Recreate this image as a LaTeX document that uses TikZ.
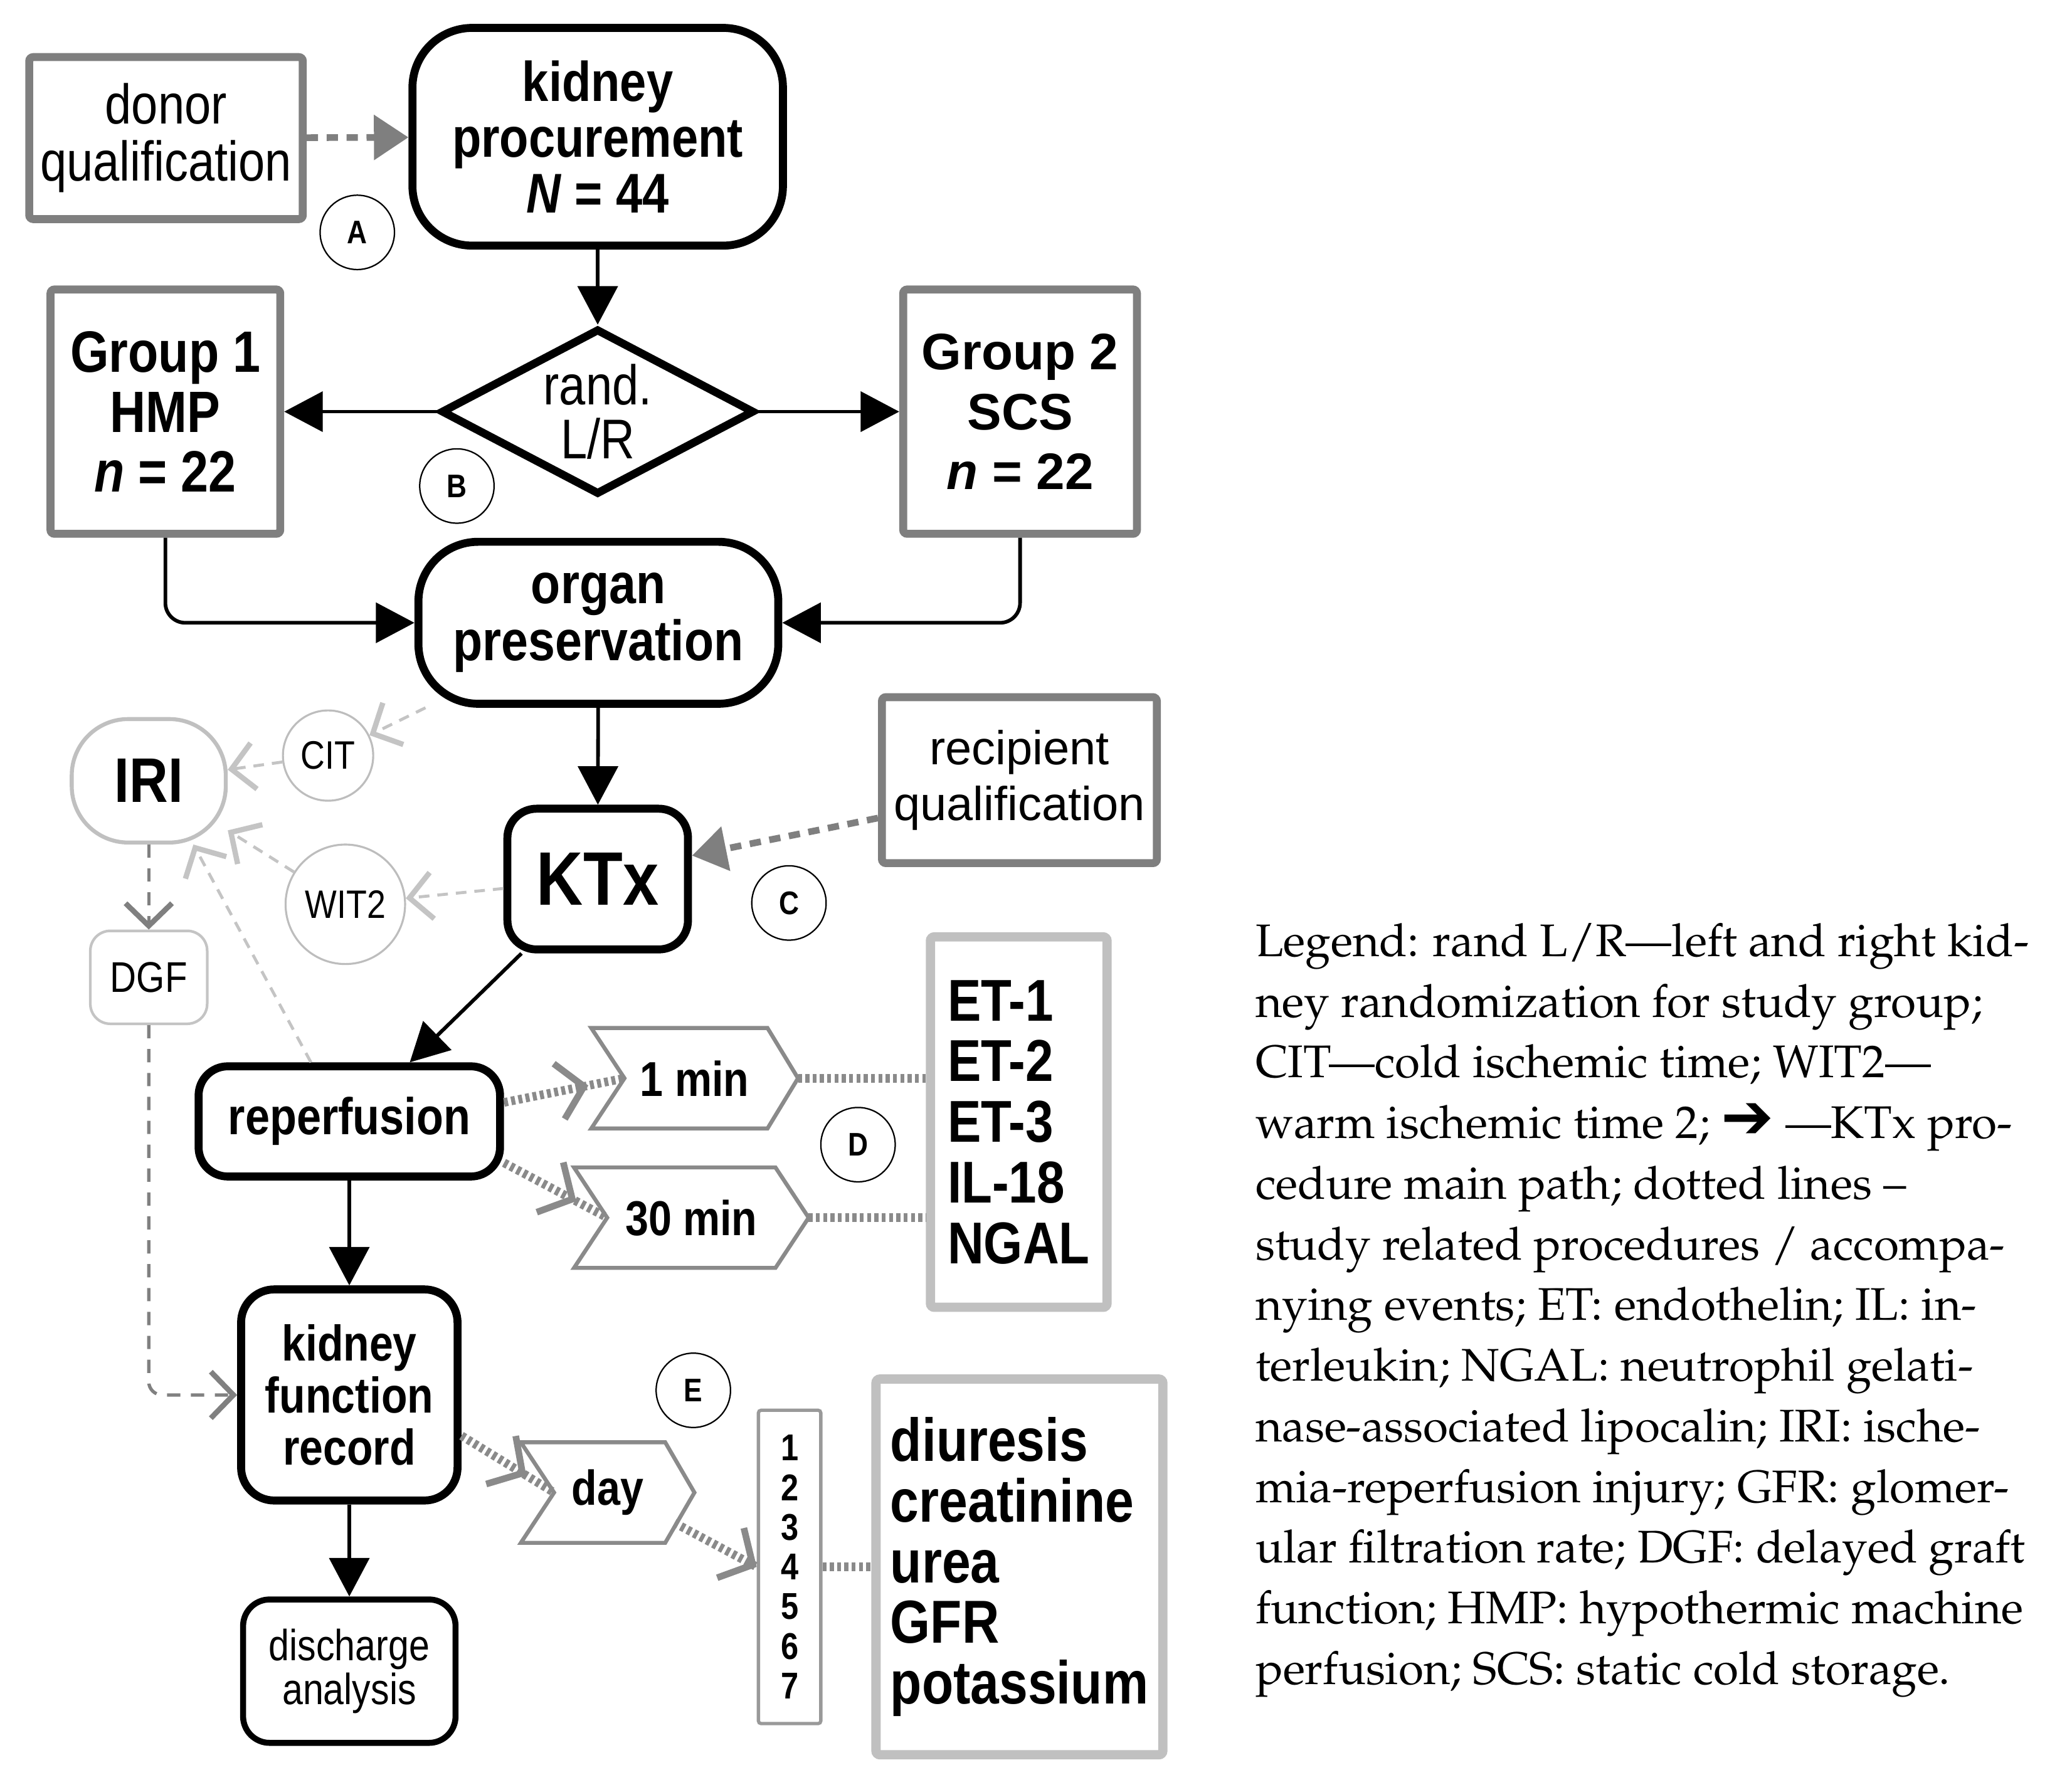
\documentclass[tikz,border=0pt]{standalone}
\usepackage[T1,TU]{fontenc}
\usepackage{fontspec}
\usetikzlibrary{arrows.meta,shapes.geometric,decorations.markings}

\newfontfamily\condfont{Liberation Sans}[FakeStretch=0.85]
\newfontfamily\plainfont{Liberation Sans}
\newfontfamily\symfont{DejaVu Sans}
\newcommand{\sz}[2]{\fontsize{#1}{#2}\selectfont}
\newcommand{\legendfont}{\fontencoding{T1}\fontfamily{ppl}\selectfont}

\definecolor{qualgray}{HTML}{7F7F7F}
\definecolor{listgray}{HTML}{C0C0C0}
\definecolor{eventgray}{HTML}{BDBDBD}
\definecolor{dashgray}{HTML}{C4C4C4}
\definecolor{chevgray}{HTML}{8A8A8A}
\definecolor{dgfgray}{HTML}{808080}
\definecolor{daysgray}{HTML}{999999}

% chevron outline round a node that is not drawn itself
\newcommand{\chevronframe}[2]{%
  \draw[chevline] (#1.north west) -- ([xshift=-#2]#1.north east) -- (#1.east)
    -- ([xshift=-#2]#1.south east) -- (#1.south west) -- ([xshift=0.5cm]#1.west) -- cycle;}

\begin{document}
\begin{tikzpicture}[
    x=0.02cm, y=-0.02cm,
    procbox/.style={
        rectangle, draw=black, line width=0.12cm,
        rounded corners=0.45cm, align=center, inner sep=0pt
    },
    qualbox/.style={
        rectangle, draw=qualgray, line width=0.12cm,
        rounded corners=0.06cm, align=center, inner sep=0pt
    },
    listbox/.style={
        rectangle, draw=listgray, line width=0.14cm,
        rounded corners=0.06cm, align=left, inner sep=0pt
    },
    eventnode/.style={
        circle, draw=eventgray, line width=0.03cm, inner sep=0pt,
        font=\condfont\sz{17}{18}
    },
    tag/.style={
        circle, draw=black, line width=0.6pt, minimum size=1.12cm, inner sep=0pt,
        font=\condfont\bfseries\sz{14}{15}
    },
    chevtext/.style={
        rectangle, inner sep=0pt, minimum height=1.5cm,
        font=\condfont\bfseries\sz{21}{22}
    },
    chevline/.style={draw=chevgray, line width=0.06cm},
    mainarrow/.style={
        line width=0.055cm, -{Triangle[length=0.58cm, width=0.6cm]}
    },
    qualarrow/.style={
        draw=qualgray, line width=0.1cm, dash pattern=on 0.17cm off 0.13cm,
        -{Triangle[length=0.52cm, width=0.66cm]}
    },
    eventarrow/.style={
        draw=dashgray, line width=0.045cm, dash pattern=on 0.16cm off 0.12cm,
        -{Straight Barb[length=0.34cm, width=0.7cm, line width=0.08cm]}
    },
    dgfarrow/.style={
        draw=dgfgray, line width=0.05cm, dash pattern=on 0.2cm off 0.16cm,
        -{Straight Barb[length=0.34cm, width=0.7cm, line width=0.08cm]}
    },
    sampleline/.style={
        draw=chevgray, line width=0.13cm, dash pattern=on 0.06cm off 0.05cm
    },
    samplearrow/.style={
        sampleline, postaction={decorate},
        decoration={markings, mark=at position #1 with
            {\arrow[chevgray]{Straight Barb[length=0.38cm, width=0.85cm, line width=0.1cm]}}}
    },
    samplearrow/.default=0.75
]
\useasboundingbox (0,0) rectangle (1560,1344);

% --- Top: donor and procurement ---
\node[qualbox, minimum width=4.12cm, minimum height=2.44cm,
      font=\condfont\sz{24}{24.5}] (donor) at (125,104) {donor\\qualification};
\node[procbox, minimum width=5.58cm, minimum height=3.28cm, rounded corners=0.9cm,
      font=\condfont\bfseries\sz{24}{24}] (kproc) at (450,103) {kidney\\procurement\\\textit{N} = 44};
\node[tag] (tagA) at (269,175) {A};

% --- Randomisation and groups ---
\node[diamond, draw=black, line width=0.12cm, aspect=1.9, inner sep=0pt,
      minimum width=4.72cm, minimum height=2.5cm, align=center,
      font=\condfont\sz{24}{23.3}] (rand) at (450,310) {rand.\\L/R};
\node[qualbox, minimum width=3.46cm, minimum height=3.68cm,
      font=\condfont\bfseries\sz{25}{25.6}] (grp1) at (124.5,310) {Group 1\\HMP\\\textit{n} = 22};
\node[qualbox, minimum width=3.52cm, minimum height=3.68cm,
      font=\plainfont\bfseries\sz{22}{25.6}] (grp2) at (768,310) {Group 2\\SCS\\\textit{n} = 22};
\node[tag] (tagB) at (344,366) {B};

% --- Preservation and transplantation ---
\node[procbox, minimum width=5.42cm, minimum height=2.44cm, rounded corners=0.9cm,
      font=\condfont\bfseries\sz{24.4}{24.5}] (orgpres) at (450.5,469) {organ\\preservation};
\node[procbox, minimum width=2.72cm, minimum height=2.12cm, rounded corners=0.44cm,
      font=\condfont\bfseries\sz{32.5}{33}] (ktx) at (450,662) {KTx};
\node[qualbox, minimum width=4.14cm, minimum height=2.5cm,
      font=\plainfont\sz{20.4}{24}] (recip) at (767.5,587.5) {recipient\\qualification};
\node[tag] (tagC) at (594,680) {C};

% --- Ischemia events ---
\node[rectangle, draw=listgray, line width=0.06cm, rounded corners=0.85cm,
      minimum width=2.32cm, minimum height=1.86cm, inner sep=0pt,
      font=\condfont\bfseries\sz{27}{28}] (iri) at (112,588) {IRI};
\node[eventnode, minimum size=1.36cm] (cit) at (247,569) {CIT};
\node[eventnode, minimum size=1.8cm] (wit2) at (260,681) {WIT2};
\node[rectangle, draw=dashgray, line width=0.04cm, rounded corners=0.3cm,
      minimum width=1.76cm, minimum height=1.4cm, inner sep=0pt,
      font=\condfont\sz{18.4}{19}] (dgf) at (112,736) {DGF};

% --- Reperfusion and samples ---
\node[procbox, minimum width=4.54cm, minimum height=1.66cm, rounded corners=0.44cm,
      font=\condfont\bfseries\sz{22.2}{23}] (reperf) at (263,844.5) {reperfusion};
\node[chevtext, minimum width=3.1cm] (chev1) at (523,812) {1 min};
\chevronframe{chev1}{0.46cm}
\node[chevtext, minimum width=3.52cm] (chev2) at (520.5,917) {30 min};
\chevronframe{chev2}{0.5cm}
\node[listbox, minimum width=2.66cm, minimum height=5.58cm,
      font=\condfont\bfseries\sz{25.3}{26}] (etbox) at (767,845) {ET-1\\ET-2\\ET-3\\IL-18\\NGAL};
\node[tag] (tagD) at (646,862) {D};

% --- Kidney function follow-up ---
\node[procbox, minimum width=3.26cm, minimum height=3.18cm, rounded corners=0.5cm,
      font=\condfont\bfseries\sz{21.5}{22.2}] (kfr) at (263,1050.5) {kidney\\function\\record};
\node[procbox, line width=0.09cm, minimum width=3.2cm, minimum height=2.16cm, rounded corners=0.4cm,
      font=\condfont\sz{18.7}{18.8}] (discharge) at (263,1258.5) {discharge\\analysis};
\node[chevtext, minimum width=2.6cm] (day) at (457.5,1124) {day};
\chevronframe{day}{0.44cm}
\node[rectangle, draw=daysgray, line width=0.05cm, rounded corners=0.04cm,
      minimum width=0.94cm, minimum height=4.72cm, inner sep=0pt, align=center,
      font=\condfont\bfseries\sz{16}{17}] (days) at (594.5,1180) {1\\2\\3\\4\\5\\6\\7};
\node[listbox, minimum width=4.32cm, minimum height=5.66cm,
      font=\condfont\bfseries\sz{26}{26}] (meas) at (767.5,1180) {diuresis\\creatinine\\urea\\GFR\\potassium};
\node[tag] (tagE) at (522,1047) {E};

% --- Legend ---
\node[anchor=north west, inner sep=0pt, align=left,
      font=\legendfont\sz{19.6}{26}] (legend) at (945,695) {%
Legend: rand L/R---left and right kid-\\
ney randomization for study group;\\
CIT---cold ischemic time; WIT2---\\
warm ischemic time 2; {\fontencoding{TU}\symfont\bfseries\sz{27}{26}➔} ---KTx pro-\\
cedure main path; dotted lines --\\
study related procedures / accompa-\\
nying events; ET: endothelin; IL: in-\\
terleukin; NGAL: neutrophil gelati-\\
nase-associated lipocalin; IRI: ische-\\
mia-reperfusion injury; GFR: glomer-\\
ular filtration rate; DGF: delayed graft\\
function; HMP: hypothermic machine\\
perfusion; SCS: static cold storage.};

% --- Main path ---
\draw[mainarrow] (kproc) -- (rand);
\draw[mainarrow] (rand) -- (grp1);
\draw[mainarrow] (rand) -- (grp2);
\draw[mainarrow, rounded corners=0.3cm] (grp1.south) |- (orgpres.west);
\draw[mainarrow, rounded corners=0.3cm] (grp2.south) |- (orgpres.east);
\draw[mainarrow] (orgpres) -- (ktx);
\draw[mainarrow] (ktx) -- (reperf);
\draw[mainarrow] (reperf) -- (kfr);
\draw[mainarrow] (kfr) -- (discharge);

% --- Qualification ---
\draw[qualarrow] (donor) -- (kproc);
\draw[qualarrow] (recip.195) -- (ktx.14);

% --- Accompanying events ---
\draw[eventarrow] (orgpres) -- (cit);
\draw[eventarrow] (cit) -- (iri);
\draw[eventarrow] (ktx) -- (wit2);
\draw[eventarrow] (wit2) -- (iri);
\draw[eventarrow] (reperf.123) -- (iri.305);
\draw[dgfarrow] (iri) -- (dgf);
\draw[dgfarrow, rounded corners=0.2cm] (dgf.south) |- (kfr.west);

% --- Study samples ---
\draw[samplearrow=0.7] (reperf.7) -- ([xshift=0.5cm]chev1.west);
\draw[samplearrow=0.7] (reperf.345) -- ([xshift=0.5cm]chev2.west);
\draw[sampleline] (chev1.east) -- (chev1.east -| etbox.west);
\draw[sampleline] (chev2.east) -- (chev2.east -| etbox.west);
\draw[samplearrow=0.7] (kfr.340) -- ([xshift=0.5cm]day.west);
\draw[samplearrow=1] ([shift={(-0.3cm,0.3cm)}]day.south east) -- (days.west);
\draw[sampleline] (days.east) -- (days.east -| meas.west);

\end{tikzpicture}
\end{document}
